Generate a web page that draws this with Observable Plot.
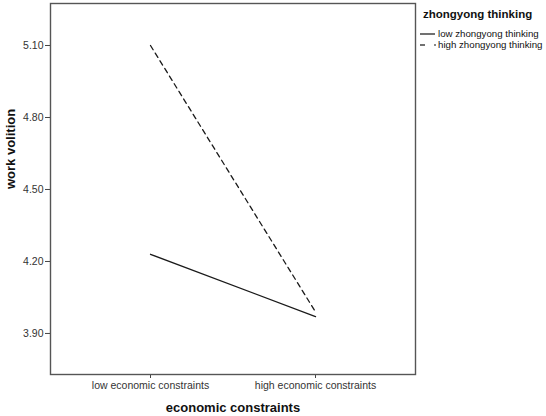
<!DOCTYPE html>
<html><head><meta charset="utf-8">
<script src="https://cdn.jsdelivr.net/npm/d3@7"></script>
<script src="https://cdn.jsdelivr.net/npm/@observablehq/plot@0.6"></script>
<style>
html,body{margin:0;padding:0;background:#fff;}
#wrap{position:relative;width:546px;height:416px;font-family:"Liberation Sans",Arial,sans-serif;}
#legend{position:absolute;left:0;top:0;color:#111;}
#legend .t{position:absolute;left:423px;top:7px;font-weight:bold;font-size:11.5px;white-space:nowrap;line-height:14px;}
#legend .i{position:absolute;left:420px;font-size:9.7px;display:flex;align-items:center;height:11px;line-height:11px;white-space:nowrap;}
</style></head>
<body><div id="wrap"><div id="legend"></div></div>
<script>
const categories = ["low economic constraints", "high economic constraints"];
const groups = ["low zhongyong thinking", "high zhongyong thinking"];
const lowThinking = [4.23, 3.97];
const highThinking = [5.10, 3.99];
const yTicks = [3.90, 4.20, 4.50, 4.80, 5.10];
const dashes = {"low zhongyong thinking": null, "high zhongyong thinking": "5,4"};

const data = [];
categories.forEach((c, i) => {
  data.push({cat: c, grp: groups[0], v: lowThinking[i]});
  data.push({cat: c, grp: groups[1], v: highThinking[i]});
});

const chart = Plot.plot({
  width: 546, height: 416,
  marginLeft: 50, marginRight: 131, marginTop: 3, marginBottom: 42,
  style: {fontFamily: '"Liberation Sans", Arial, sans-serif', background: "#fff", overflow: "visible"},
  x: {type: "point", domain: categories, padding: 0.6, label: null},
  y: {domain: [3.729, 5.275], label: null},
  marks: [
    Plot.axisX({ticks: categories, tickSize: 4, tickPadding: 3, fontSize: 10.5, stroke: "#444", color: "#333", label: null}),
    Plot.axisY({ticks: yTicks, tickFormat: d3.format(".2f"), tickSize: 5, tickPadding: 2, fontSize: 10.5, stroke: "#444", color: "#333", label: null}),
    Plot.frame({stroke: "#555", strokeWidth: 1.4}),
    ...groups.map(g => Plot.line(data.filter(d => d.grp === g), {
      x: "cat", y: "v", stroke: "#1a1a1a", strokeWidth: 1.3, strokeDasharray: dashes[g]
    })),
    Plot.text(["economic constraints"], {frameAnchor: "bottom", dy: 37, fontWeight: "bold", fontSize: 13, fill: "#111"}),
    Plot.text(["work volition"], {frameAnchor: "left", dx: -40, rotate: -90, fontWeight: "bold", fontSize: 13, fill: "#111"})
  ]
});
document.getElementById("wrap").prepend(chart);

const lg = document.getElementById("legend");
lg.innerHTML = '<div class="t">zhongyong thinking</div>' + groups.map((g, i) =>
  `<div class="i" style="top:${28 + i * 11}px"><svg width="17" height="6" style="margin-right:1px"><line x1="0" x2="${dashes[g] ? 5 : 15}" y1="3" y2="3" stroke="#111" stroke-width="1.2"/>${dashes[g] ? '<line x1="14" x2="16" y1="3" y2="3" stroke="#111" stroke-width="1.2"/>' : ''}</svg><span>${g}</span></div>`
).join("");
</script>
</body></html>
